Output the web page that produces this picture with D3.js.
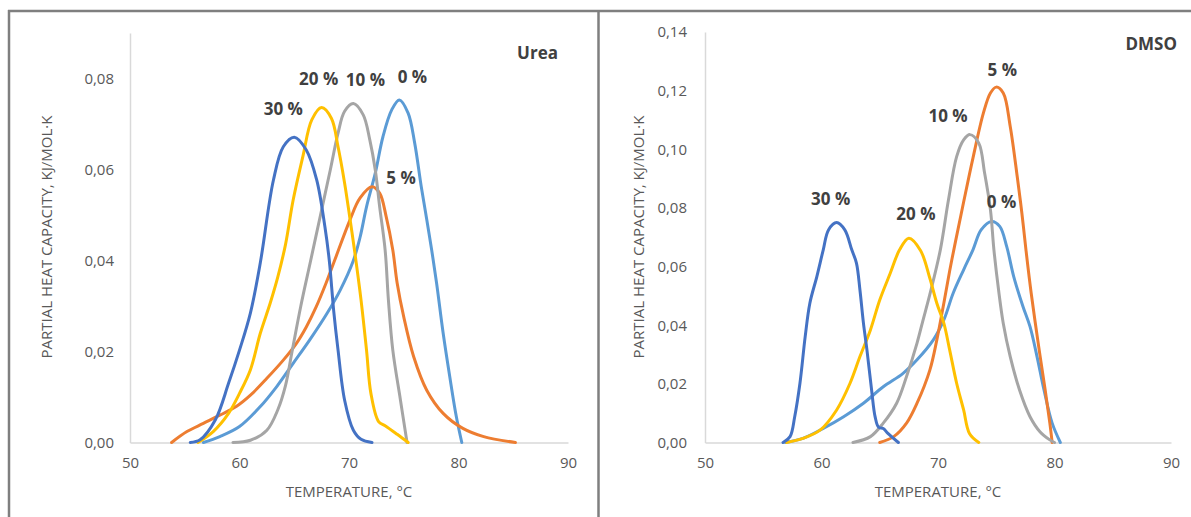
<!DOCTYPE html>
<html><head><meta charset="utf-8">
<script src="https://cdn.jsdelivr.net/npm/d3@7"></script>
<style>
html,body{margin:0;padding:0;background:#fff;}
svg{display:block;}
text{font-family:"Open Sans",sans-serif;}
</style></head>
<body>
<svg id="c" width="1191" height="517"></svg>
<script>
// ---------- DATA ----------
const xTicks = [50, 60, 70, 80, 90];
const ureaYTicks = [0, 0.02, 0.04, 0.06, 0.08];
const dmsoYTicks = [0, 0.02, 0.04, 0.06, 0.08, 0.10, 0.12, 0.14];
const seriesNames = ["0 %", "5 %", "10 %", "20 %", "30 %"];
const seriesColors = ["#5B9BD5", "#ED7D31", "#A5A5A5", "#FFC000", "#4472C4"];

// Urea panel, [temperature °C, partial heat capacity kJ/mol·K]
const urea0 = [[56.7,0],[58.2,0.0013],[60.0,0.0035],[61.9,0.0079],[63.4,0.0123],[64.9,0.0174],[66.4,0.0225],[68.0,0.0284],[69.2,0.0335],[70.4,0.040],[71.0,0.045],[71.6,0.0518],[72.4,0.0592],[73.1,0.0672],[73.9,0.0731],[74.6,0.0753],[75.4,0.0724],[76.0,0.0658],[76.6,0.0562],[77.1,0.049],[77.55,0.0423],[78.0,0.035],[78.6,0.024],[79.2,0.0145],[79.8,0.0057],[80.3,0]];
const urea5 = [[53.8,0],[55.2,0.0024],[56.7,0.0042],[58.2,0.006],[59.7,0.0079],[61.0,0.0104],[62.5,0.0141],[64.0,0.0181],[65.2,0.0218],[66.1,0.0254],[67.0,0.0298],[67.9,0.035],[68.7,0.0401],[70.1,0.049],[71.0,0.0537],[72.1,0.0562],[72.8,0.0548],[73.4,0.0496],[74.0,0.0423],[74.4,0.035],[75.0,0.0276],[75.9,0.0189],[77.1,0.0115],[78.6,0.0064],[80.4,0.0031],[82.3,0.0013],[85.2,0]];
const urea10 = [[59.4,0],[61.0,0.0005],[62.5,0.0027],[63.5,0.0072],[64.2,0.0125],[64.8,0.020],[65.6,0.030],[66.5,0.040],[67.4,0.050],[68.3,0.060],[69.0,0.068],[69.6,0.0728],[70.4,0.0745],[71.3,0.072],[71.9,0.0665],[72.4,0.0599],[72.8,0.0518],[73.3,0.0423],[73.6,0.0313],[74.0,0.0203],[74.7,0.0093],[75.3,0]];
const urea20 = [[56.2,0],[57.6,0.0024],[59.0,0.0064],[60.0,0.0108],[61.0,0.016],[61.9,0.024],[62.8,0.0306],[63.5,0.0364],[64.2,0.0435],[64.9,0.0533],[65.8,0.063],[66.6,0.0709],[67.5,0.0736],[68.4,0.0712],[69.0,0.065],[69.6,0.057],[70.1,0.049],[70.5,0.0423],[71.1,0.0313],[71.6,0.0203],[72.0,0.0108],[72.7,0.0046],[73.3,0.0037],[74.4,0.0018],[75.4,0]];
const urea30 = [[55.5,0],[56.4,0.0006],[57.8,0.005],[59.0,0.013],[60.0,0.0203],[61.0,0.0285],[61.9,0.0395],[63.1,0.0577],[64.0,0.065],[65.0,0.0671],[66.1,0.0643],[67.05,0.0577],[67.8,0.0474],[68.2,0.040],[68.6,0.029],[69.0,0.0203],[69.6,0.0093],[70.4,0.0027],[71.1,0.0007],[72.1,0]];

// DMSO panel
const dmso0 = [[56.9,0],[58.4,0.0014],[60.15,0.0048],[61.9,0.0088],[63.6,0.0134],[65.3,0.019],[67.0,0.0236],[68.2,0.0282],[69.6,0.035],[70.5,0.0418],[71.3,0.0509],[72.2,0.0589],[73.0,0.0657],[73.7,0.0725],[74.6,0.0754],[75.3,0.0737],[75.9,0.0668],[76.5,0.0566],[77.3,0.0463],[77.9,0.0395],[78.5,0.0293],[79.1,0.0179],[79.8,0.0066],[80.5,0]];
const dmso5 = [[65.0,0],[66.2,0.002],[67.3,0.0066],[68.2,0.0134],[69.3,0.0247],[69.9,0.035],[70.5,0.0475],[71.0,0.0585],[71.5,0.0685],[72.2,0.082],[73.0,0.097],[73.9,0.1124],[74.5,0.1192],[75.0,0.1212],[75.6,0.1192],[76.2,0.1078],[76.8,0.0907],[77.2,0.0782],[77.55,0.0657],[78.0,0.0509],[78.6,0.0339],[79.2,0.0179],[79.6,0.0066],[79.8,0]];
const dmso10 = [[62.7,0],[64.2,0.002],[65.3,0.0066],[66.45,0.0134],[67.3,0.0225],[68.2,0.0339],[68.7,0.0415],[69.3,0.0505],[70.2,0.0657],[70.9,0.0828],[71.6,0.0975],[72.2,0.1032],[72.75,0.105],[73.5,0.1021],[74.0,0.0919],[74.5,0.0794],[74.8,0.0657],[75.2,0.052],[75.6,0.0407],[76.2,0.0293],[77.0,0.0179],[77.9,0.0088],[78.75,0.0037],[79.6,0.0009],[80.0,0]];
const dmso20 = [[57.0,0],[58.4,0.0014],[59.9,0.0043],[61.3,0.0111],[62.45,0.0202],[63.3,0.0293],[64.2,0.0384],[65.0,0.0486],[65.9,0.0577],[66.7,0.0657],[67.5,0.0697],[68.5,0.0655],[69.3,0.056],[69.9,0.0475],[70.5,0.0407],[71.0,0.0316],[71.6,0.0202],[72.2,0.0111],[72.7,0.0031],[73.5,0]];
const dmso30 = [[56.7,0],[57.3,0.002],[57.7,0.0088],[58.15,0.0202],[58.6,0.0361],[59.0,0.0475],[59.6,0.0566],[60.15,0.0657],[60.6,0.0725],[61.3,0.075],[62.0,0.0725],[62.6,0.0657],[63.0,0.0612],[63.3,0.052],[63.6,0.0407],[63.9,0.0316],[64.3,0.0179],[64.6,0.0088],[64.9,0.0052],[65.3,0.0048],[65.7,0.0031],[66.6,0]];

// ---------- LAYOUT ----------
const svg = d3.select("#c");
const fmt = d => d3.format(".2f")(d).replace(".", ",");

// panel frames
const frame = svg.append("g").attr("stroke", "#7f7f7f").attr("stroke-width", 2.5).attr("fill", "none");
frame.append("line").attr("x1", 8).attr("y1", 11).attr("x2", 1191).attr("y2", 11);
frame.append("line").attr("x1", 9).attr("y1", 10).attr("x2", 9).attr("y2", 517);
frame.append("line").attr("x1", 598.5).attr("y1", 10).attr("x2", 598.5).attr("y2", 517);

function panel(cfg) {
  const x = d3.scaleLinear().domain([50, 90]).range([cfg.x0, cfg.x1]);
  const y = d3.scaleLinear().domain([0, cfg.ymax]).range([442.5, cfg.ytop]);
  const g = svg.append("g");

  const xa = g.append("g").attr("transform", `translate(0,${y(0)})`)
    .call(d3.axisBottom(x).tickValues(xTicks).tickSize(0).tickPadding(15).tickFormat(d3.format("d")));
  const ya = g.append("g").attr("transform", `translate(${x(50)},0)`)
    .call(d3.axisLeft(y).tickValues(cfg.yTicks).tickSize(0).tickPadding(cfg.ypad).tickFormat(fmt));
  [xa, ya].forEach(a => {
    a.select(".domain").attr("stroke", "#d9d9d9").attr("stroke-width", 1.5);
    a.selectAll("text").attr("fill", "#595959").style("font-size", "15px").style("font-family", "Open Sans");
  });

  const line = d3.line().x(d => x(d[0])).y(d => y(d[1])).curve(d3.curveCatmullRom.alpha(0.5));
  cfg.series.forEach((s, i) => {
    g.append("path").datum(s).attr("d", line).attr("fill", "none")
      .attr("stroke", seriesColors[i]).attr("stroke-width", 3)
      .attr("stroke-linejoin", "round").attr("stroke-linecap", "round");
  });

  cfg.series.forEach((s, i) => {
    const pk = s.reduce((a, b) => b[1] > a[1] ? b : a);
    const off = cfg.labelOffsets[i];
    g.append("text").attr("x", x(pk[0]) + off[0]).attr("y", y(pk[1]) + off[1])
      .attr("text-anchor", "middle").attr("dominant-baseline", "central")
      .attr("fill", "#404040").style("font-weight", 700).style("font-size", "17px")
      .text(seriesNames[i]);
  });

  g.append("text").attr("x", cfg.titleX).attr("y", cfg.titleY).attr("text-anchor", "end")
    .attr("dominant-baseline", "central").attr("fill", "#404040")
    .style("font-weight", 700).style("font-size", "17px").text(cfg.title);

  g.append("text").attr("x", (x(50) + x(90)) / 2).attr("y", 490.5)
    .attr("text-anchor", "middle").attr("dominant-baseline", "central")
    .attr("fill", "#595959").style("font-size", "15px").text("TEMPERATURE, °C");
  g.append("text").attr("transform", `translate(${cfg.ytitleX},237) rotate(-90)`)
    .attr("text-anchor", "middle").attr("dominant-baseline", "central")
    .attr("fill", "#595959").style("font-size", "15px").text("PARTIAL HEAT CAPACITY, KJ/MOL·K");
}

panel({
  x0: 130, x1: 568, ymax: 0.09, ytop: 33, yTicks: ureaYTicks, ypad: 16,
  series: [urea0, urea5, urea10, urea20, urea30],
  labelOffsets: [[13, -23], [29, -9], [12, -24], [-3, -29], [-11, -29]],
  title: "Urea", titleX: 558, titleY: 52, ytitleX: 46
});
panel({
  x0: 705, x1: 1171, ymax: 0.14, ytop: 32, yTicks: dmsoYTicks, ypad: 18,
  series: [dmso0, dmso5, dmso10, dmso20, dmso30],
  labelOffsets: [[10, -20], [6, -18], [-22, -19], [7, -25], [-6, -24]],
  title: "DMSO", titleX: 1177, titleY: 43, ytitleX: 638
});
</script>
</body></html>
